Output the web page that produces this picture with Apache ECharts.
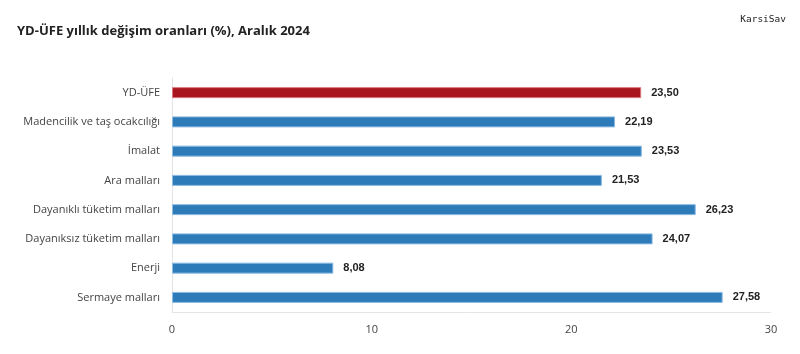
<!DOCTYPE html>
<html>
<head>
<meta charset="utf-8">
<script src="https://cdn.jsdelivr.net/npm/echarts@6/dist/echarts.min.js"></script>
<style>
    html, body { margin: 0; padding: 0; background: #fff; }
    #chart { width: 800px; height: 354px; }
</style>
</head>
<body>
<div id="chart"></div>
<script>
"use strict"

// kategoriler (üstten alta)
let categories = ["YD-ÜFE", "Madencilik ve taş ocakcılığı", "İmalat", "Ara malları",
    "Dayanıklı tüketim malları", "Dayanıksız tüketim malları", "Enerji", "Sermaye malları"];
let values = [23.50, 22.19, 23.53, 21.53, 26.23, 24.07, 8.08, 27.58];
let xTicks = [0, 10, 20, 30];

let redColor = "#a8151c";
let blueColor = "#2e7bba";

showBars();

function showBars() {
    var myChart = echarts.init(document.getElementById("chart"));
    var option = {
        animation: false,
        title: [{
            text: "YD-ÜFE yıllık değişim oranları (%), Aralık 2024",
            left: 12,
            top: 20,
            textStyle: {
                fontFamily: "Open Sans",
                fontSize: 13,
                fontWeight: "bold",
                color: "#222"
            }
        }, {
            text: "KarsiSav",
            right: 9,
            top: 10,
            textStyle: {
                fontFamily: "DejaVu Sans Mono",
                fontSize: 9.5,
                fontWeight: "normal",
                color: "#222"
            }
        }],
        grid: {
            left: 172,
            right: 29,
            top: 78,
            height: 234,
            containLabel: false
        },
        xAxis: {
            type: "value",
            min: xTicks[0],
            max: xTicks[xTicks.length - 1],
            interval: 10,
            splitLine: { show: false },
            axisLine: { show: true, lineStyle: { color: "#e4e4e4" } },
            axisTick: { show: false },
            axisLabel: {
                color: "#444",
                fontFamily: "Open Sans",
                fontSize: 11,
                margin: 12
            }
        },
        yAxis: {
            type: "category",
            inverse: true,
            data: categories,
            axisLine: { show: true, lineStyle: { color: "#e4e4e4" } },
            axisTick: { show: false },
            axisLabel: {
                color: "#444",
                fontFamily: "Open Sans",
                fontSize: 11,
                margin: 12
            }
        },
        series: [{
            type: "bar",
            barWidth: 11,
            data: values.map(function (v, i) {
                return {
                    value: v,
                    itemStyle: {
                        color: i === 0 ? redColor : blueColor,
                        borderColor: i === 0 ? "#d97a7e" : "#8dbbe2",
                        borderWidth: 1
                    }
                };
            }),
            label: {
                show: true,
                position: "right",
                distance: 10,
                fontFamily: "Liberation Sans",
                fontSize: 11,
                fontWeight: "bold",
                color: "#222",
                formatter: function (p) {
                    return p.value.toFixed(2).replace(".", ",");
                }
            }
        }]
    };
    myChart.setOption(option);
}
</script>
</body>
</html>
